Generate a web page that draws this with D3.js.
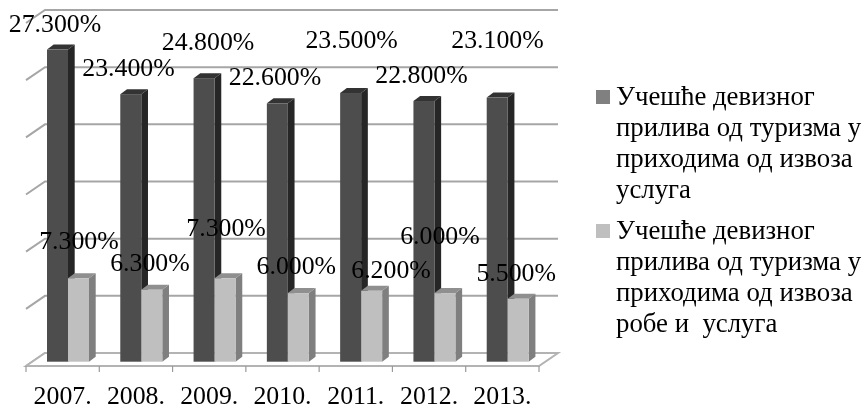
<!DOCTYPE html>
<html>
<head>
<meta charset="utf-8">
<script src="https://cdn.jsdelivr.net/npm/d3@7"></script>
<style>
  html, body { margin: 0; padding: 0; background: #fff; }
  svg { display: block; filter: blur(0.45px); }
  text { font-family: "Liberation Serif", serif; fill: #000; }
</style>
</head>
<body>
<svg id="chart" width="867" height="409"></svg>
<script>
var years = ['2007.', '2008.', '2009.', '2010.', '2011.', '2012.', '2013.'];
var servicesShare = [27.3, 23.4, 24.8, 22.6, 23.5, 22.8, 23.1];
var goodsServicesShare = [7.3, 6.3, 7.3, 6.0, 6.2, 6.0, 5.5];
var gridValues = [0, 5, 10, 15, 20, 25, 30];
var legendLabels = [
  ['Учешће девизног', 'прилива од туризма у', 'приходима од извоза', 'услуга'],
  ['Учешће девизног', 'прилива од туризма у', 'приходима од извоза', 'робе и  услуга']
];

// Labels were placed by hand in the original, so they sit off the bars.
var servicesLabelOffsets = [[-2.5, -17.6], [-2.3, -18.2], [4, -28.2], [-2.4, -18.3], [1, -45], [-2.4, -18], [0.3, -49.6]];
var goodsLabelOffsets = [[0.5, -29], [-1.8, -19], [1, -42], [-2, -19], [19.4, -13], [-5, -49], [-2, -18]];

var svg = d3.select('#chart');

var floor = {x0: 26, x1: 539, front: 366, back: 353, top: 10};
var depth = {x: 19, y: floor.front - floor.back};
var barDepth = {x: 6.7, y: 5};
var barBase = 361.7;
var barWidth = 21;
var fontSize = 25.8;

var x = d3.scaleBand().domain(years).range([floor.x0, floor.x1]);
var gridY = d3.scaleLinear().domain([0, 30]).range([floor.back, floor.top]);
var barY = d3.scaleLinear().domain([0, 30]).range([barBase, barBase - (floor.back - floor.top)]);

var line = d3.line();
var gridColor = '#a6a6a6';

// Back wall lines and their slanted ends on the left wall.
var grid = svg.append('g').attr('fill', 'none').attr('stroke', gridColor).attr('stroke-width', 2);
grid.selectAll('path').data(gridValues).enter().append('path')
    .attr('d', function(d) {
      var y = gridY(d);
      return line([[floor.x0, y + depth.y], [floor.x0 + depth.x, y], [floor.x1 + depth.x, y]]);
    });

// Floor.
svg.append('path')
    .attr('d', line([
      [floor.x0, floor.front], [floor.x0 + depth.x, floor.back],
      [floor.x1 + depth.x, floor.back], [floor.x1, floor.front]
    ]) + 'Z')
    .attr('fill', '#fff')
    .attr('stroke', '#b3b3b3')
    .attr('stroke-width', 2);

// Axis ticks sit on the band edges, so they are drawn from the band scale.
var tickEdges = years.map(function(d) { return x(d); }).concat([floor.x1]);
svg.append('g').selectAll('line').data(tickEdges).enter().append('line')
    .attr('x1', function(d) { return d; })
    .attr('x2', function(d) { return d; })
    .attr('y1', floor.front)
    .attr('y2', floor.front + 6)
    .attr('stroke', '#999')
    .attr('stroke-width', 1.2);

svg.append('g').selectAll('text').data(years).enter().append('text')
    .attr('x', function(d) { return x(d) + x.bandwidth() / 2; })
    .attr('y', 404)
    .attr('text-anchor', 'middle')
    .attr('font-size', fontSize)
    .text(function(d) { return d; });

function drawBars(values, inset, colors) {
  var group = svg.append('g');
  var bars = group.selectAll('g').data(values).enter().append('g');
  bars.append('path')
      .attr('fill', colors.side)
      .attr('d', function(d, i) {
        var left = x(years[i]) + inset + barWidth;
        return line([
          [left, barBase], [left, barY(d)],
          [left + barDepth.x, barY(d) - barDepth.y], [left + barDepth.x, barBase - barDepth.y]
        ]) + 'Z';
      });
  bars.append('path')
      .attr('fill', colors.top)
      .attr('d', function(d, i) {
        var left = x(years[i]) + inset;
        return line([
          [left, barY(d)], [left + barDepth.x, barY(d) - barDepth.y],
          [left + barWidth + barDepth.x, barY(d) - barDepth.y], [left + barWidth, barY(d)]
        ]) + 'Z';
      });
  bars.append('rect')
      .attr('fill', colors.front)
      .attr('x', function(d, i) { return x(years[i]) + inset; })
      .attr('y', function(d) { return barY(d); })
      .attr('width', barWidth)
      .attr('height', function(d) { return barBase - barY(d); });
}

drawBars(servicesShare, 21, {front: '#4d4d4d', side: '#262626', top: '#333333'});
drawBars(goodsServicesShare, 42, {front: '#bfbfbf', side: '#7f7f7f', top: '#8f8f8f'});

function drawLabels(values, inset, offsets) {
  svg.append('g').selectAll('text').data(values).enter().append('text')
      .attr('x', function(d, i) { return x(years[i]) + inset + barWidth / 2 + offsets[i][0]; })
      .attr('y', function(d, i) { return barY(d) + offsets[i][1]; })
      .attr('text-anchor', 'middle')
      .attr('font-size', fontSize)
      .text(function(d) { return d3.format('.3f')(d) + '%'; });
}

drawLabels(servicesShare, 21, servicesLabelOffsets);
drawLabels(goodsServicesShare, 42, goodsLabelOffsets);

// Legend.
var legendColors = ['#808080', '#bfbfbf'];
var legendTops = [90, 224];
var legendLineHeight = 31;
var legend = svg.append('g').selectAll('g').data(legendLabels).enter().append('g')
    .attr('transform', function(d, i) { return 'translate(596,' + legendTops[i] + ')'; });
legend.append('rect')
    .attr('width', 14)
    .attr('height', 14)
    .attr('fill', function(d, i) { return legendColors[i]; });
legend.selectAll('text').data(function(d) { return d; }).enter().append('text')
    .attr('x', 20)
    .attr('y', function(d, i) { return 14.5 + i * legendLineHeight; })
    .attr('font-size', 26.8)
    .style('white-space', 'pre')
    .text(function(d) { return d; });
</script>
</body>
</html>
